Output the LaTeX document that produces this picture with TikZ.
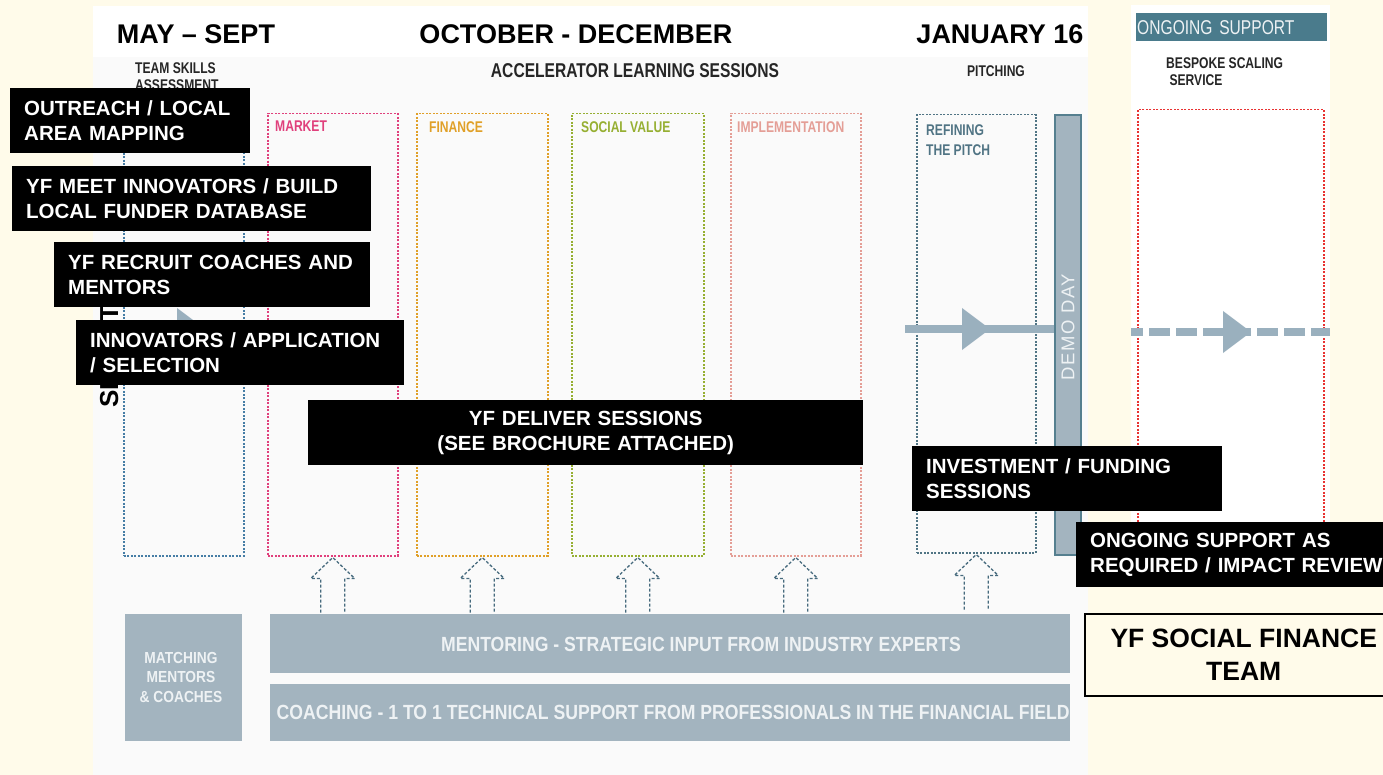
\documentclass[tikz,border=0pt]{standalone}
\usepackage{fontspec}
\setmainfont{Liberation Sans}
\newfontfamily\narrowfont[FakeStretch=0.78]{Liberation Sans}
\newfontfamily\barfont[FakeStretch=0.86]{Liberation Sans}
\newfontfamily\spacedfont[LetterSpace=8]{Liberation Sans}
\usetikzlibrary{positioning}
\definecolor{cream}{RGB}{255,251,234}
\definecolor{panelgrey}{RGB}{250,250,250}
\definecolor{barblue}{RGB}{163,180,191}
\definecolor{bartext}{RGB}{238,242,244}
\definecolor{headteal}{RGB}{74,123,140}
\definecolor{demoedge}{RGB}{85,127,143}
\definecolor{arrowgrey}{RGB}{154,176,190}
\definecolor{teamblue}{RGB}{70,125,165}
\definecolor{marketpink}{RGB}{224,64,124}
\definecolor{financegold}{RGB}{224,160,40}
\definecolor{socialgreen}{RGB}{150,175,50}
\definecolor{implpink}{RGB}{228,158,150}
\definecolor{pitchslate}{RGB}{80,116,132}
\definecolor{supportred}{RGB}{232,50,50}
\definecolor{updash}{RGB}{70,106,125}
\tikzstyle{monthhead}=[font=\bfseries\fontsize{27}{30}\selectfont, inner sep=0pt]
\tikzstyle{subhead}=[font=\narrowfont\bfseries\fontsize{15.5}{17.5}\selectfont, inner sep=0pt, align=left, text=black!85]
\tikzstyle{stagebox}=[draw, dash pattern=on 2pt off 1.5pt, line width=1.5pt, anchor=north west, inner sep=0pt]
\tikzstyle{stagelabel}=[font=\narrowfont\bfseries\fontsize{15.5}{20}\selectfont, inner sep=0pt, anchor=north west, align=left]
\tikzstyle{uparrow}=[draw=updash, line width=1.3pt, dash pattern=on 3pt off 2pt]
\tikzstyle{greybar}=[fill=barblue, text=bartext, anchor=north west, inner sep=0pt]
\tikzstyle{bartxt}=[text=bartext, font=\barfont\bfseries\fontsize{20.5}{22}\selectfont, inner sep=0pt]
\tikzstyle{blackbox}=[fill=black, text=white, font=\bfseries\fontsize{20.5}{25}\selectfont, anchor=north west, inner xsep=14pt, inner ysep=0pt, minimum height=65pt, align=left]

\begin{document}
\begin{tikzpicture}[x=1pt, y=-1pt]
  \useasboundingbox (0,0) rectangle (1383,775);
  \fill[cream] (0,0) rectangle (1383,775);
  \fill[panelgrey] (93,6) rectangle (1088,775);
  \fill[white] (93,6) rectangle (1088,57);
  \fill[white] (1131,5) rectangle (1330,570);

  % headings
  \node (maysept) [monthhead] at (196,34) {MAY – SEPT};
  \node (octdec) [monthhead] at (576,34) {OCTOBER - DECEMBER};
  \node (jan16) [monthhead] at (1000,34) {JANUARY 16};
  \node (ongoing) [fill=headteal, text=bartext, font=\narrowfont\fontsize{20}{22}\selectfont, anchor=north west, text width=189pt, minimum height=28pt, inner xsep=1pt, inner ysep=0pt, align=left] at (1136,13) {ONGOING SUPPORT};

  \node (teamskills) [subhead, anchor=north west] at (135,62) {TEAM SKILLS\\ASSESSMENT};
  \node (learning) [subhead, font=\narrowfont\bfseries\fontsize{20}{22}\selectfont] at (635,71) {ACCELERATOR LEARNING SESSIONS};
  \node (pitching) [subhead] at (996,71) {PITCHING};
  \node (bespoke) [subhead, anchor=north west] at (1166,57) {BESPOKE SCALING\\\ SERVICE};

  % stages
  \node (teamcol) [stagebox, draw=teamblue, minimum width=120pt, minimum height=442pt] at (123,113) {};
  \node (market) [stagebox, draw=marketpink, minimum width=130pt, minimum height=442pt] at (267,113) {};
  \node (finance) [stagebox, draw=financegold, minimum width=131pt, minimum height=442pt] at (416,113) {};
  \node (social) [stagebox, draw=socialgreen, minimum width=132pt, minimum height=442pt] at (571,113) {};
  \node (implement) [stagebox, draw=implpink, minimum width=130pt, minimum height=442pt] at (730,113) {};
  \node (refine) [stagebox, draw=pitchslate, minimum width=119pt, minimum height=438pt] at (916,114) {};
  \node (support) [stagebox, draw=supportred, minimum width=186pt, minimum height=450pt] at (1137,109) {};
  \node (demoday) [fill=barblue, draw=demoedge, line width=2pt, anchor=north west, minimum width=26pt, minimum height=440pt, inner sep=0pt] at (1054,114) {};
  \node (demotext) [rotate=90, text=bartext, font=\spacedfont\fontsize{18.5}{20}\selectfont, inner sep=0pt] at (demoday.center |- 0,327) {DEMO DAY};

  \node (marketlbl) [stagelabel, text=marketpink] at (275,121) {MARKET};
  \node (financelbl) [stagelabel, text=financegold] at (429,121) {FINANCE};
  \node (sociallbl) [stagelabel, text=socialgreen] at (581,121) {SOCIAL VALUE};
  \node (implementlbl) [stagelabel, text=implpink] at (737,121) {IMPLEMENTATION};
  \node (refinelbl) [stagelabel, text=pitchslate] at (926,124) {REFINING\\THE PITCH};

  % flow arrows
  \coordinate (teamin) at (123,329);
  \draw [arrowgrey, line width=7pt] (teamin) -- (teamcol.east |- teamin);
  \fill [arrowgrey] (177,308) -- (205,329) -- (177,350) -- cycle;
  \coordinate (pitchin) at (905,329);
  \draw [arrowgrey, line width=7pt] (pitchin) -- (demoday.west |- pitchin);
  \fill [arrowgrey] (962,308) -- (990,329) -- (962,350) -- cycle;
  \coordinate (supportin) at (1131,332);
  \coordinate (supportout) at (1330,332);
  \draw [arrowgrey, line width=7pt, dash pattern=on 21pt off 6pt, dash phase=9pt] (supportin) -- (supportout);
  \fill [arrowgrey] (1223,311) -- (1251,332) -- (1223,353) -- cycle;

  \node (selection) [rotate=90, anchor=base west, font=\bfseries\fontsize{26}{28}\selectfont, inner sep=0pt] at (118,408) {SELECTION};

  % support from mentors and coaches
  \foreach \col in {market,finance,social,implement,refine}
    \draw [uparrow] (\col.south) ++(-12,56) -- ++(0,-34) -- ++(-10,0) -- ++(22,-21) -- ++(22,21) -- ++(-10,0) -- ++(0,34);

  \node (matching) [greybar, minimum width=117pt, minimum height=127pt] at (125,614) {};
  \node (matchingtxt) [bartxt, font=\barfont\bfseries\fontsize{16}{19.5}\selectfont, align=center] at (181,677) {MATCHING\\MENTORS\\\& COACHES};
  \node (mentoring) [greybar, minimum width=800pt, minimum height=59pt] at (270,614) {};
  \node (mentoringtxt) [bartxt] at (701,644) {MENTORING - STRATEGIC INPUT FROM INDUSTRY EXPERTS};
  \node (coaching) [greybar, minimum width=800pt, minimum height=57pt] at (270,684) {};
  \node (coachingtxt) [bartxt] at ([xshift=3pt]coaching.center) {COACHING - 1 TO 1 TECHNICAL SUPPORT FROM PROFESSIONALS IN THE FINANCIAL FIELD};

  % black notes
  \node (outreach) [blackbox, text width=212pt] at (10,88) {OUTREACH / LOCAL\\AREA MAPPING};
  \node (meet) [blackbox, text width=331pt] at (12,166) {YF MEET INNOVATORS / BUILD\\LOCAL FUNDER DATABASE};
  \node (recruit) [blackbox, text width=288pt] at (54,242) {YF RECRUIT COACHES AND\\MENTORS};
  \node (apply) [blackbox, text width=300pt] at (76,320) {INNOVATORS / APPLICATION\\/ SELECTION};
  \node (deliver) [blackbox, text width=527pt, align=center] at (308,400) {YF DELIVER SESSIONS\\(SEE BROCHURE ATTACHED)};
  \node (invest) [blackbox, text width=282pt] at (912,446) {INVESTMENT / FUNDING\\SESSIONS};
  \node (ongoingreq) [blackbox, text width=296pt] at (1076,522) {ONGOING SUPPORT AS\\REQUIRED / IMPACT REVIEW};

  \node (sfteam) [fill=cream, draw=black, line width=1.5pt, anchor=north west, minimum width=318pt, minimum height=82pt, align=center, font=\bfseries\fontsize{26.5}{33}\selectfont] at (1084,613) {YF SOCIAL FINANCE\\TEAM};
\end{tikzpicture}
\end{document}
